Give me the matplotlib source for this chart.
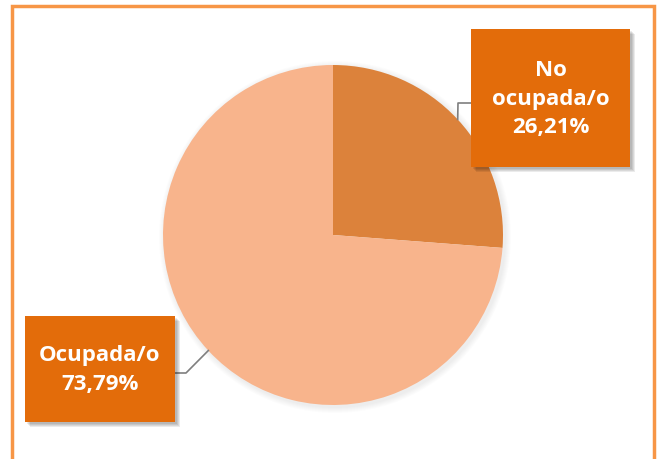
import matplotlib
matplotlib.use('Agg')
import numpy as np
import matplotlib.pyplot as plt
from matplotlib.patches import Rectangle

# data
labels = ['No\nocupada/o', 'Ocupada/o']
values = [26.21, 73.79]
slice_colors = ['#DC823B', '#F8B48C']

box_color = '#E36C0A'
W, H = 660, 459

fig = plt.figure(figsize=(6.6, 4.59), dpi=100)
ax = fig.add_axes([0, 0, 1, 1])
ax.set_xlim(0, W)
ax.set_ylim(0, H)
ax.axis('off')

# outer border (left, top, right)
ax.plot([12, 12, 654, 654], [0, H - 6, H - 6, 0], color='#F79646', lw=2.5,
        solid_joinstyle='miter')

cx, cy, r = 333, 224, 170

# soft shadow under pie
for k in range(6):
    ax.add_patch(plt.Circle((cx + 2, cy - 2), r + 6 - k, color='#000000',
                            alpha=0.012, lw=0))

wedges, _ = ax.pie(values, colors=slice_colors, startangle=90, counterclock=False,
                   center=(cx, cy), radius=r, frame=True,
                   wedgeprops=dict(linewidth=0))
ax.set_xlim(0, W)
ax.set_ylim(0, H)
ax.set_aspect('equal')
ax.axis('off')

# label boxes (x0, y0 top in image coords, x1, y1)
boxes = [(471, 29, 630, 167), (25, 316, 175, 422)]
elbows = [(458, 103), (186, 373)]

for i, (lab, val) in enumerate(zip(labels, values)):
    w = wedges[i]
    ang = np.deg2rad((w.theta1 + w.theta2) / 2)
    px, py = cx + r * np.cos(ang), cy + r * np.sin(ang)
    x0, y0, x1, y1 = boxes[i]
    ex, ey = elbows[i]
    ey = H - ey
    if i == 0:
        ax.plot([px, ex, x0], [py, ey, ey], color='#7F7F7F', lw=1.2, zorder=3)
    else:
        ax.plot([px, ex, x1], [py, ey, ey], color='#7F7F7F', lw=1.2, zorder=3)
    # box shadow
    for k in range(4):
        ax.add_patch(Rectangle((x0 + 2 + k, H - y1 - 2 - k), x1 - x0, y1 - y0,
                               color='#000000', alpha=0.08, lw=0, zorder=4))
    ax.add_patch(Rectangle((x0, H - y1), x1 - x0, y1 - y0, color=box_color,
                           lw=0, zorder=5))
    txt = lab + '\n' + f'{val:.2f}'.replace('.', ',') + '%'
    ax.text((x0 + x1) / 2, H - (y0 + y1) / 2 - 1, txt, ha='center', va='center',
            color='white', fontsize=16, fontweight='bold', family='Open Sans',
            linespacing=1.5, zorder=6)

fig.savefig('out.png', dpi=100)
